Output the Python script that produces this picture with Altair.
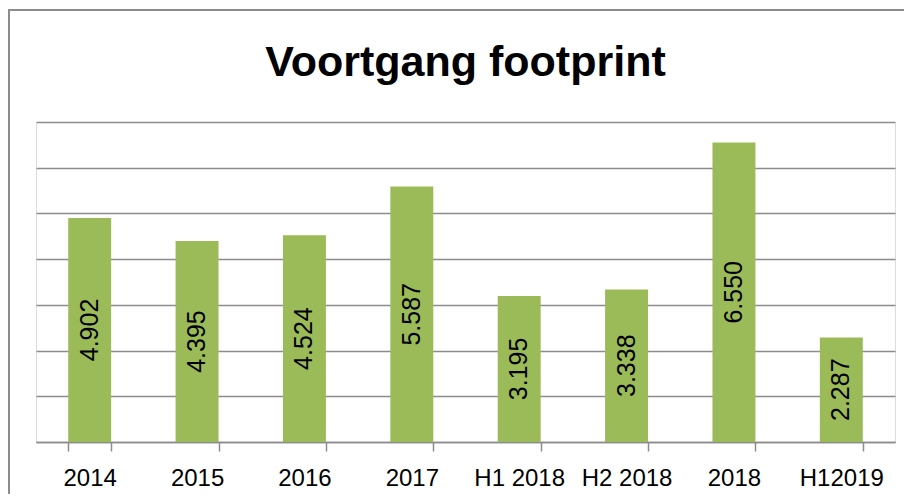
import altair as alt
import pandas as pd

categories = ["2014", "2015", "2016", "2017", "H1 2018", "H2 2018", "2018", "H12019"]
values = [4902, 4395, 4524, 5587, 3195, 3338, 6550, 2287]
labels = [f"{v:,}".replace(",", ".") for v in values]
y_ticks = [0, 1000, 2000, 3000, 4000, 5000, 6000, 7000]
title_text = "Voortgang footprint"

df = pd.DataFrame({"cat": categories, "value": values, "label": labels})

W, H = 859, 320
GRAY = "#8c8c8c"

x_enc = alt.X(
    "cat:N",
    sort=categories,
    scale=alt.Scale(paddingInner=0.6, paddingOuter=0.3),
    axis=alt.Axis(
        title=None,
        labelAngle=0,
        tickBand="extent",
        tickSize=9,
        tickColor=GRAY,
        tickWidth=1.5,
        domainColor=GRAY,
        domainWidth=1.5,
        labelFont="Liberation Sans",
        labelFontSize=24,
        labelColor="black",
        labelPadding=15,
        grid=False,
    ),
)

bars = alt.Chart(df).mark_bar(color="#9BBB59").encode(
    x=x_enc,
    y=alt.Y(
        "value:Q",
        scale=alt.Scale(domain=[0, 7000], nice=False),
        axis=alt.Axis(
            title=None,
            values=y_ticks,
            labels=False,
            ticks=False,
            domain=False,
            grid=True,
            gridColor=GRAY,
            gridWidth=1.5,
        ),
    ),
)

text = alt.Chart(df).transform_calculate(mid="datum.value / 2").mark_text(
    angle=270,
    font="Liberation Sans",
    fontSize=25,
    color="black",
    baseline="middle",
    align="center",
).encode(
    x=alt.X("cat:N", sort=categories),
    y=alt.Y("mid:Q"),
    text="label:N",
)

frame_data = alt.Data(values=[{"a": 1}])
left_line = alt.Chart(frame_data).mark_rule(color=GRAY, strokeWidth=2).encode(
    x=alt.value(-27), y=alt.value(-112), y2=alt.value(H + 80)
)
top_line = alt.Chart(frame_data).mark_rule(color=GRAY, strokeWidth=2).encode(
    x=alt.value(-28), x2=alt.value(W + 9), y=alt.value(-112)
)

title_mark = alt.Chart(alt.Data(values=[{"t": title_text}])).mark_text(
    font="Liberation Sans",
    fontSize=43,
    fontWeight="bold",
    color="black",
    align="center",
    baseline="alphabetic",
).encode(
    x=alt.value(W / 2),
    y=alt.value(-46),
    text="t:N",
)

chart = alt.layer(bars, text, left_line, top_line, title_mark).properties(
    width=W,
    height=H,
    autosize=alt.AutoSizeParams(type="none"),
    padding={"left": 28, "top": 114, "right": 9, "bottom": 52},
).configure_view(stroke=None).configure(background="white")

chart.save("out.html", embed_options={"renderer": "svg", "actions": False})
